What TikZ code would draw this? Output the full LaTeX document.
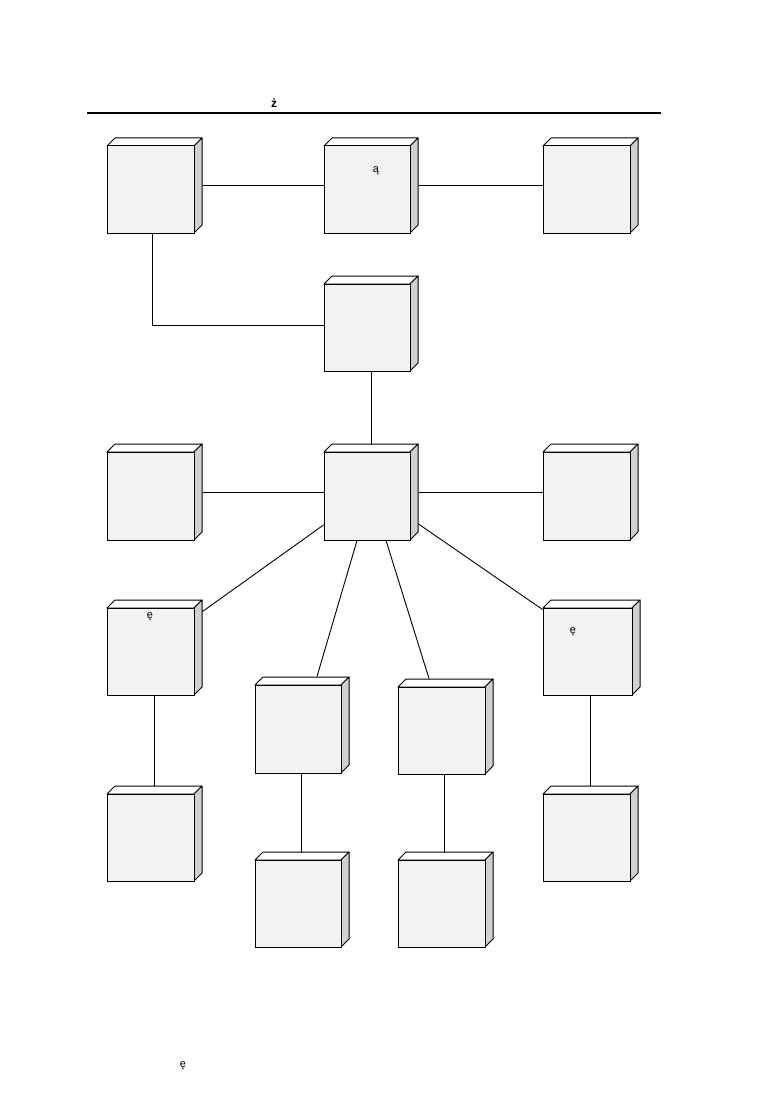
\documentclass[tikz,border=0pt]{standalone}
\usepackage{fontspec}
\setmainfont{Liberation Sans}
\definecolor{frontc}{HTML}{F2F2F2}
\definecolor{sidec}{HTML}{D0D0D0}
\tikzset{
  cubefront/.style={draw=black, line width=1pt, fill=frontc, rectangle, inner sep=0pt},
  cubetop/.style={draw=black, line width=1pt, fill=white, line join=round},
  cubeside/.style={draw=black, line width=1pt, fill=sidec, line join=round},
  conn/.style={draw=black, line width=0.9pt},
  lbl/.style={font=\fontsize{11}{13}\selectfont, inner sep=0pt},
}
\newcommand\cube[5]{%
  \path[cubetop] (#2,#3) -- ({#2+8},{#3-8}) -- ({#4+8},{#3-8}) -- (#4,#3) -- cycle;
  \path[cubeside] (#4,#3) -- ({#4+8},{#3-8}) -- ({#4+8},{#5-8}) -- (#4,#5) -- cycle;
  \node[cubefront, minimum width={(#4-#2)*1pt}, minimum height={(#5-#3)*1pt}] (#1) at ({(#2+#4)/2},{(#3+#5)/2}) {};
}
\begin{document}
\begin{tikzpicture}[x=1pt,y=-1pt]
\useasboundingbox (0,0) rectangle (774,1094);
% title
\coordinate (tl) at (87,113);
\coordinate (tr) at (661,113);
\draw[line width=2pt] (tl) -- (tr);
\node[lbl, font=\bfseries\fontsize{12}{14}\selectfont] (title) at (274,103) {ż};
% cubes
\cube{A}{107}{146}{194}{233}
\cube{B}{324}{146}{410}{233}
\cube{C}{543}{146}{630}{233}
\cube{D}{324}{284}{410}{371}
\cube{E}{107}{452}{194}{540}
\cube{F}{324}{452}{410}{540}
\cube{G}{543}{452}{630}{540}
\cube{H}{107}{608}{194}{695}
\cube{I}{543}{608}{632}{695}
\cube{J}{255}{685}{341}{773}
\cube{K}{398}{687}{485}{774}
\cube{L}{107}{794}{194}{881}
\cube{M}{543}{794}{630}{881}
\cube{N}{255}{860}{341}{947}
\cube{O}{398}{860}{485}{947}
% labels
\node[lbl] (tB) at (376,171) {ą};
\node[lbl] (tH) at (150,617) {ę};
\node[lbl] (tI) at (573,632) {ę};
\node[lbl] (foot) at (183,1066) {ę};
% connectors
\draw[conn] ([shift={(8,-4.5)}]A.east) -- ([shift={(0,-4.5)}]B.west);
\draw[conn] ([shift={(8,-4)}]B.east) -- ([shift={(0,-4)}]C.west);
\draw[conn] ([xshift=1.5]A.south) |- ([shift={(0,-2.5)}]D.west);
\draw[conn] ([xshift=4]D.south) -- ([shift={(4,-8)}]F.north);
\draw[conn] ([shift={(8,-4)}]E.east) -- ([shift={(0,-4)}]F.west);
\draw[conn] ([shift={(8,-4)}]F.east) -- ([shift={(0,-4)}]G.west);
\draw[conn] ([shift={(0,29)}]F.west) -- ([shift={(8,4)}]H.north east);
\draw[conn] ([xshift=-10]F.south) -- ([shift={(19,-8)}]J.north);
\draw[conn] ([xshift=19]F.south) -- ([shift={(-12.5,-8)}]K.north);
\draw[conn] ([shift={(8,28)}]F.east) -- ([shift={(0,2)}]I.north west);
\draw[conn] ([xshift=3.5]H.south) -- ([shift={(3.5,-8)}]L.north);
\draw[conn] ([xshift=3]J.south) -- ([shift={(3,-8)}]N.north);
\draw[conn] ([xshift=2.5]K.south) -- ([shift={(2.5,-8)}]O.north);
\draw[conn] ([xshift=2.5]I.south) -- ([shift={(3.5,-8)}]M.north);
\end{tikzpicture}
\end{document}
